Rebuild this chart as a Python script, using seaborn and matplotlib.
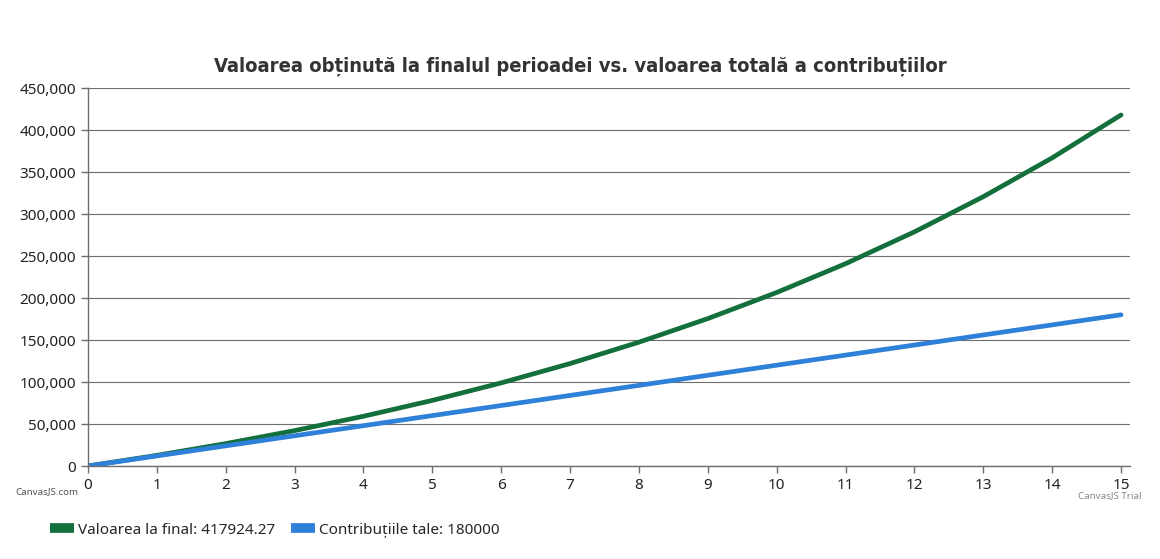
import numpy as np
import pandas as pd
import matplotlib
matplotlib.use('Agg')
import matplotlib.pyplot as plt
import seaborn as sns
from matplotlib.ticker import FuncFormatter

# Data (year -> value)
years = list(range(16))
final_value = [0, 12670, 26667, 42130, 59212, 78082, 98929, 121958, 147399,
               175504, 206552, 240851, 278742, 320600, 366841, 417924.27]
contributions = [0, 12000, 24000, 36000, 48000, 60000, 72000, 84000, 96000,
                 108000, 120000, 132000, 144000, 156000, 168000, 180000]
series_names = ['Valoarea la final: 417924.27', 'Contribuțiile tale: 180000']
colors = ['#136f3c', '#2f80d8']

df = pd.concat([
    pd.DataFrame({'an': years, 'valoare': final_value, 'serie': series_names[0]}),
    pd.DataFrame({'an': years, 'valoare': contributions, 'serie': series_names[1]}),
])

sns.set_theme(style='white')
plt.rcParams['font.family'] = ['Noto Sans', 'DejaVu Sans']

fig = plt.figure(figsize=(11.6, 5.59), dpi=100)
ax = fig.add_axes([88/1160, 1 - 466/559, (1130-88)/1160, (466-88)/559])

sns.lineplot(data=df, x='an', y='valoare', hue='serie', palette=colors,
             linewidth=3.4, ax=ax, legend=False)

ax.set_xlim(0, 15.13)
ax.set_ylim(0, 450000)
ax.set_xticks(range(16))
ax.set_yticks(range(0, 450001, 50000))
ax.yaxis.set_major_formatter(FuncFormatter(lambda v, p: f'{int(v):,}'))
ax.set_xlabel('')
ax.set_ylabel('')
ax.grid(axis='y', color='#6e6e6e', linewidth=0.8)
ax.set_axisbelow(True)
for s in ['top', 'right']:
    ax.spines[s].set_visible(False)
for s in ['left', 'bottom']:
    ax.spines[s].set_color('#6e6e6e')
    ax.spines[s].set_linewidth(1)
ax.tick_params(axis='both', colors='#6e6e6e', labelcolor='#222222', labelsize=11,
               length=5, width=1, left=True, bottom=True)

fig.text(0.5, 1 - 66/559, 'Valoarea obținută la finalul perioadei vs. valoarea totală a contribuțiilor',
         ha='center', va='center', fontsize=14.5, fontweight='heavy', fontstretch='condensed',
         color='#333333', family=['DejaVu Sans'])

fig.text(15/1160, 1 - 492/559, 'CanvasJS.com', fontsize=7, color='#555555', va='center')
fig.text(1078/1160, 1 - 496/559, 'CanvasJS Trial', fontsize=7, color='#888888', va='center')

# legend at the bottom
handles = [plt.Line2D([], [], color=c, linewidth=7, solid_capstyle='butt') for c in colors]
fig.legend(handles, series_names, loc='center left', bbox_to_anchor=(36/1160, 1 - 530/559),
           ncol=2, frameon=False, fontsize=11, handlelength=1.6, columnspacing=1.0,
           handletextpad=0.25)

fig.savefig('out.png', dpi=100)
